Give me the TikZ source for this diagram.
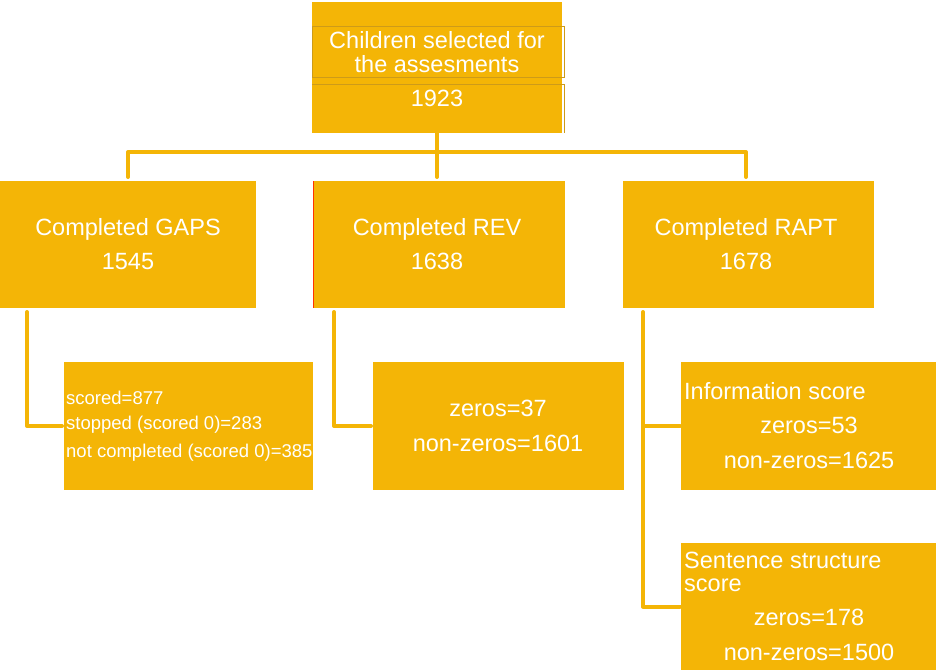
\documentclass[tikz,border=0pt]{standalone}
\usepackage{fontspec}
\setmainfont{Liberation Sans}
\definecolor{boxc}{RGB}{244,181,6}
\definecolor{edgec}{RGB}{205,155,25}
\begin{document}
\begin{tikzpicture}[x=1pt,y=-1pt,
  box/.style={fill=boxc,draw=none,anchor=north west,inner sep=0,outer sep=0},
  big/.style={text=white,inner sep=0,font=\fontsize{23.5}{34}\selectfont,align=center},
  bigl/.style={text=white,inner sep=0,font=\fontsize{23.5}{25}\selectfont,anchor=west},
  small/.style={text=white,inner sep=0,font=\fontsize{18.5}{21}\selectfont,anchor=west},
  conn/.style={draw=boxc,line width=4pt,line join=round,line cap=round}]
\useasboundingbox (0,0) rectangle (936,670);
% boxes
\node[box,minimum width=250,minimum height=131] (top) at (312,2) {};
\draw[edgec,line width=0.5pt] (312,26) rectangle (564,77);
\draw[edgec,line width=0.5pt] (312,84) -- (564,84) -- (564,133);
\node[box,minimum width=256,minimum height=127] (gaps) at (0,181) {};
\node[box,minimum width=252,minimum height=127] (rev) at (313,181) {};
\draw[red!60!orange,line width=0.8pt] (rev.north west) -- (rev.south west);
\node[box,minimum width=251,minimum height=127] (rapt) at (623,181) {};
\node[box,minimum width=249,minimum height=128] (gapsd) at (64,362) {};
\node[box,minimum width=251,minimum height=128] (revd) at (373,362) {};
\node[box,minimum width=255,minimum height=128] (info) at (681,362) {};
\node[box,minimum width=255,minimum height=127] (sent) at (681,543) {};
% connectors
\coordinate (hub) at (437,152);
\draw[conn] (top.south) -- ([yshift=4pt]rev.north -| hub);
\draw[conn] ([yshift=4pt]gaps.north) -- (gaps.north |- hub) -- (746,152) -- (746,177);
\draw[conn] ([xshift=27pt,yshift=-4pt]gaps.south west) |- ([xshift=-2pt]gapsd.west);
\draw[conn] ([xshift=21pt,yshift=-4pt]rev.south west) |- ([xshift=-2pt]revd.west);
\draw[conn] ([xshift=20pt,yshift=-4pt]rapt.south west) |- ([xshift=-1pt]sent.west);
\draw[conn] ([xshift=20pt]rapt.south west |- info.west) -- ([xshift=-1pt]info.west);
% texts
\node[big,font=\fontsize{23.5}{24}\selectfont] (toptxt) at (437,52) {Children selected for\\the assesments};
\node[big] (topnum) at (437,98) {1923};
\node[big] (gapst) at (128,244) {Completed GAPS\\1545};
\node[big] (revt) at (437,244) {Completed REV\\1638};
\node[big] (raptt) at (746,244) {Completed RAPT\\1678};
\node[small] (g1) at (66,398) {scored=877};
\node[small] (g2) at (66,425) {stopped (scored 0)=283};
\node[small] (g3) at (66,453) {not completed (scored 0)=385};
\node[big] (r1) at (498,408) {zeros=37};
\node[big] (r2) at (498,443) {non-zeros=1601};
\node[bigl] (i0) at (684,391) {Information score};
\node[big] (i1) at (809,425) {zeros=53};
\node[big] (i2) at (809,460) {non-zeros=1625};
\node[bigl] (s0) at (684,560) {Sentence structure};
\node[bigl] (s0b) at (684,585) {score};
\node[big] (s1) at (809,617) {zeros=178};
\node[big] (s2) at (809,652) {non-zeros=1500};
\end{tikzpicture}
\end{document}
